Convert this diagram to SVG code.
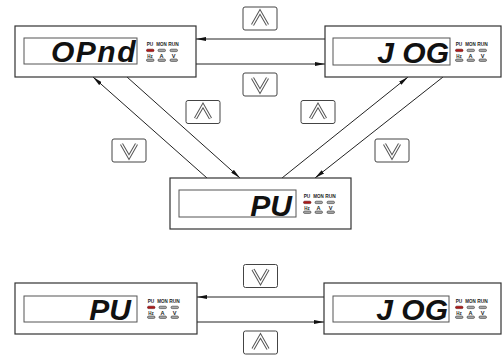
<svg xmlns="http://www.w3.org/2000/svg" xmlns:xlink="http://www.w3.org/1999/xlink" width="502" height="360" viewBox="0 0 502 360">
<style>
.box{fill:#fff;stroke:#333;stroke-width:1.2}
.disp{fill:#fff;stroke:#555;stroke-width:1}
.big{font-family:"Liberation Sans",Arial,sans-serif;font-weight:bold;font-style:italic;font-size:30px;fill:#111;text-anchor:end}
.ind{font-family:"Liberation Sans",Arial,sans-serif;font-weight:bold;font-size:5.6px;fill:#222;text-anchor:middle}
.bar{fill:#aaa;stroke:#333;stroke-width:0.6}
.on{fill:#b01818;stroke:#601010;stroke-width:0.6}
.ln{fill:none;stroke:#222;stroke-width:1}
.btn{fill:#fff;stroke:#444;stroke-width:1}
.chO{fill:none;stroke:#555;stroke-width:3.4;stroke-linejoin:miter}
.chI{fill:none;stroke:#fff;stroke-width:1.4;stroke-linejoin:miter}
</style>
<defs>
<marker id="ah" markerUnits="userSpaceOnUse" markerWidth="10" markerHeight="4" refX="10" refY="2" orient="auto">
<path d="M0,0 L10,2 L0,4 z" fill="#111"/>
</marker>
<g id="ind">
<text class="ind" x="3" y="19.5" textLength="6.5" lengthAdjust="spacingAndGlyphs">PU</text>
<text class="ind" x="14.5" y="19.5" textLength="10.5" lengthAdjust="spacingAndGlyphs">MON</text>
<text class="ind" x="26.5" y="19.5" textLength="10.5" lengthAdjust="spacingAndGlyphs">RUN</text>
<rect class="on" x="-0.5" y="23.2" width="7.5" height="2.4" rx="1.2"/>
<rect class="bar" x="11" y="23.2" width="7.5" height="2.4" rx="1.2"/>
<rect class="bar" x="23" y="23.2" width="7.5" height="2.4" rx="1.2"/>
<text class="ind" x="3" y="31.5" textLength="5.5" lengthAdjust="spacingAndGlyphs">Hz</text>
<text class="ind" x="14.5" y="31.5">A</text>
<text class="ind" x="26.5" y="31.5">V</text>
<rect class="bar" x="-0.5" y="33" width="7.5" height="2.4" rx="1.2"/>
<rect class="bar" x="11" y="33" width="7.5" height="2.4" rx="1.2"/>
<rect class="bar" x="23" y="33" width="7.5" height="2.4" rx="1.2"/>
</g>
<g id="up">
<rect class="btn" x="-17" y="-11.5" width="34" height="23" rx="2"/>
<path class="chO" d="M-7.5,6.5 L0,-6.5 L7.5,6.5"/>
<path class="chI" d="M-7.5,6.5 L0,-6.5 L7.5,6.5"/>
</g>
<g id="down">
<rect class="btn" x="-17" y="-11.5" width="34" height="23" rx="2"/>
<path class="chO" d="M-7.5,-6.5 L0,6.5 L7.5,-6.5"/>
<path class="chI" d="M-7.5,-6.5 L0,6.5 L7.5,-6.5"/>
</g>
</defs>
<rect width="502" height="360" fill="#fff"/>

<g id="connectors">
<line class="ln" x1="325" y1="39" x2="196" y2="39" marker-end="url(#ah)"/>
<line class="ln" x1="196" y1="64" x2="325" y2="64" marker-end="url(#ah)"/>
<line class="ln" x1="207" y1="178" x2="93" y2="77" marker-end="url(#ah)"/>
<line class="ln" x1="127" y1="77" x2="240" y2="178" marker-end="url(#ah)"/>
<line class="ln" x1="282" y1="178" x2="408" y2="77" marker-end="url(#ah)"/>
<line class="ln" x1="443" y1="77" x2="315" y2="178" marker-end="url(#ah)"/>
<line class="ln" x1="324" y1="297" x2="197" y2="297" marker-end="url(#ah)"/>
<line class="ln" x1="197" y1="322" x2="324" y2="322" marker-end="url(#ah)"/>
<use xlink:href="#up" href="#up" x="260" y="18.5"/>
<use xlink:href="#down" href="#down" x="260" y="84.5"/>
<use xlink:href="#up" href="#up" x="203" y="112"/>
<use xlink:href="#down" href="#down" x="129" y="150.5"/>
<use xlink:href="#up" href="#up" x="318" y="112"/>
<use xlink:href="#down" href="#down" x="392" y="150.5"/>
<use xlink:href="#down" href="#down" x="260.5" y="276"/>
<use xlink:href="#up" href="#up" x="260.5" y="342.5"/>
</g>

<g id="node-opnd">
<rect class="box" x="15" y="26" width="181" height="51"/>
<rect class="disp" x="24" y="38" width="113" height="26"/>
<text class="big" x="137" y="62" letter-spacing="1.5">OPnd</text>
<use xlink:href="#ind" href="#ind" x="147" y="26"/>
</g>

<g id="node-jog-top">
<rect class="box" x="325" y="26" width="176" height="51"/>
<rect class="disp" x="333" y="38" width="117" height="27"/>
<text class="big" x="449" y="63">J OG</text>
<use xlink:href="#ind" href="#ind" x="456" y="26"/>
</g>

<g id="node-pu-mid">
<rect class="box" x="170" y="178" width="181" height="51"/>
<rect class="disp" x="179" y="190" width="117" height="27"/>
<text class="big" x="292" y="216">PU</text>
<use xlink:href="#ind" href="#ind" x="304" y="178"/>
</g>

<g id="node-pu-bottom">
<rect class="box" x="15" y="283" width="182" height="51"/>
<rect class="disp" x="24" y="296" width="113" height="26"/>
<text class="big" x="131" y="320">PU</text>
<use xlink:href="#ind" href="#ind" x="148" y="283"/>
</g>

<g id="node-jog-bottom">
<rect class="box" x="324" y="283" width="177" height="51"/>
<rect class="disp" x="333" y="296" width="116" height="26"/>
<text class="big" x="448" y="320">J OG</text>
<use xlink:href="#ind" href="#ind" x="456" y="283"/>
</g>
</svg>
